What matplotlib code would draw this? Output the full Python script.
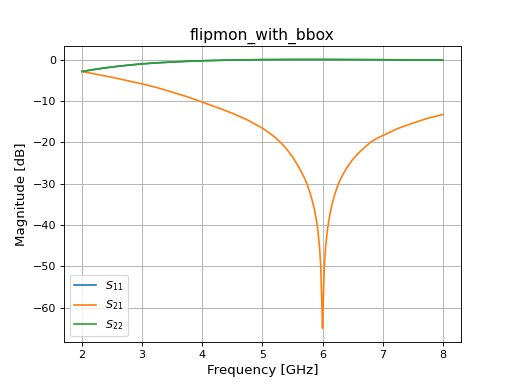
import matplotlib
matplotlib.use("Agg")
import matplotlib.pyplot as plt

# S21 (GHz, dB)
freq_s21 = [2.0, 2.25, 2.5, 2.75, 3.0, 3.25, 3.5, 3.75, 4.0, 4.25, 4.5, 4.75,
            5.0, 5.1, 5.2, 5.3, 5.4, 5.5, 5.6, 5.65, 5.7, 5.75, 5.8, 5.84, 5.87,
            5.9, 5.92, 5.95, 5.97, 5.99, 6.0, 6.01, 6.03, 6.05, 6.08, 6.1, 6.13,
            6.16, 6.2, 6.25, 6.3, 6.35, 6.4, 6.5, 6.6, 6.7, 6.8, 6.9, 7.0, 7.25,
            7.5, 7.75, 8.0]
s21_db = [-2.9, -3.6, -4.3, -5.1, -5.9, -6.8, -7.9, -9.0, -10.3, -11.6, -13.0, -14.6,
          -16.6, -17.6, -18.7, -20.0, -21.6, -23.5, -25.9, -27.2, -28.7, -30.4, -32.6,
          -34.7, -36.6, -39.0, -41.0, -45.3, -49.9, -59.5, -65.0, -59.5, -50.0, -45.5,
          -41.4, -39.4, -36.9, -34.9, -32.8, -30.6, -28.9, -27.5, -26.3, -24.2, -22.6,
          -21.25, -20.0, -19.1, -18.4, -16.7, -15.4, -14.2, -13.3]

# S11 / S22 (they overlap)
freq_s11 = [2.0, 2.25, 2.5, 2.75, 3.0, 3.25, 3.5, 3.75, 4.0, 4.5, 5.0, 5.5, 6.0,
            6.5, 7.0, 7.5, 8.0]
s11_db = [-2.9, -2.3, -1.8, -1.4, -1.05, -0.8, -0.6, -0.43, -0.3, -0.12, -0.03,
          0.0, 0.0, -0.02, -0.05, -0.1, -0.15]
s22_db = [-2.9, -2.3, -1.8, -1.4, -1.05, -0.8, -0.6, -0.43, -0.3, -0.12, -0.03,
          0.0, 0.0, -0.02, -0.05, -0.1, -0.15]

fig, ax = plt.subplots(figsize=(6.4, 4.8), dpi=80)
ax.plot(freq_s11, s11_db, label=r"$S_{11}$")
ax.plot(freq_s21, s21_db, label=r"$S_{21}$")
ax.plot(freq_s11, s22_db, label=r"$S_{22}$")
ax.set_title("flipmon_with_bbox", fontsize=14)
ax.set_xlabel("Frequency [GHz]", fontsize=12)
ax.set_ylabel("Magnitude [dB]", fontsize=12)
ax.grid(True)
ax.legend(loc="lower left")
fig.savefig("out.png", dpi=80)
